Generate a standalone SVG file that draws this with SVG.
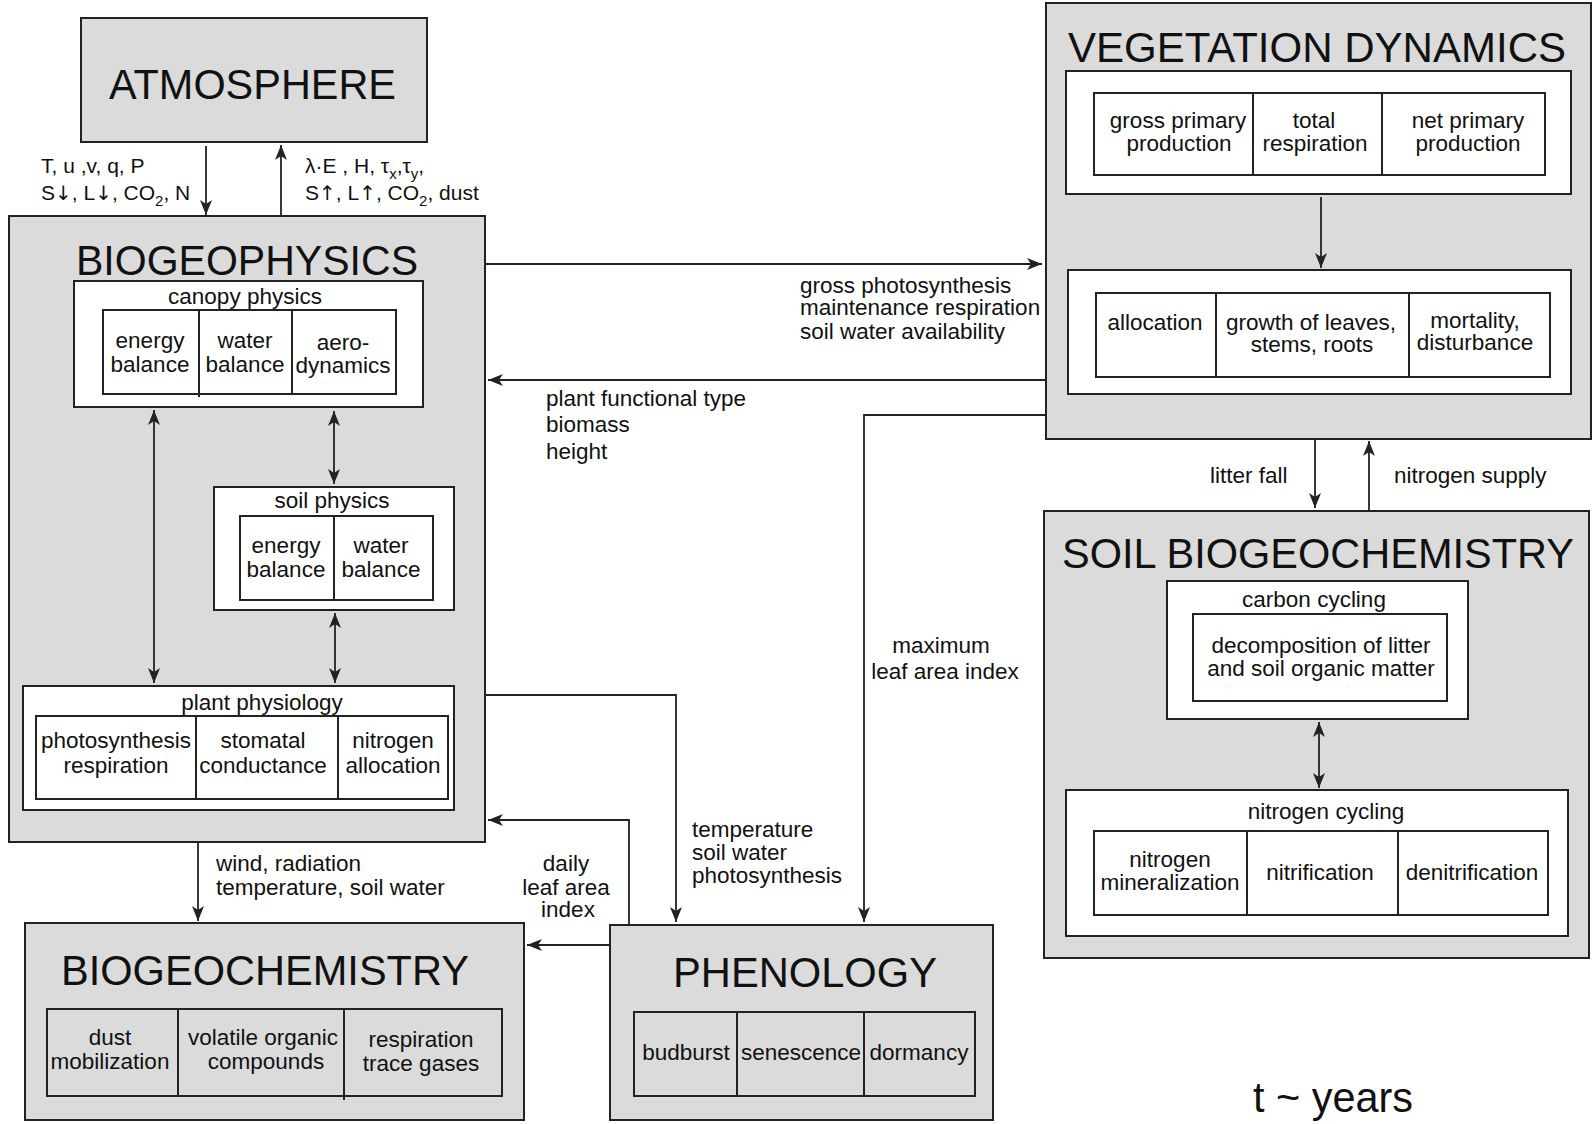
<svg xmlns="http://www.w3.org/2000/svg" width="1594" height="1124" viewBox="0 0 1594 1124">
  <style>
    .box { fill: #dbdbdb; stroke: #222; stroke-width: 2; }
    .panel { fill: #fff; stroke: #222; stroke-width: 2; }
    .cell { fill: none; stroke: #222; stroke-width: 2; }
    .div { stroke: #222; stroke-width: 2; }
    .title { font-family: "Liberation Sans", Arial, sans-serif; font-size: 42px; fill: #111; }
    .t { font-family: "Liberation Sans", Arial, sans-serif; font-size: 22.5px; fill: #111; text-anchor: middle; }
    .lbl { font-family: "Liberation Sans", Arial, sans-serif; font-size: 22.5px; fill: #111; }
    .lbl.c { text-anchor: middle; }
    .flux { font-family: "Liberation Sans", "DejaVu Sans", Arial, sans-serif; font-size: 21px; fill: #111; }
    .arr { font-family: "DejaVu Sans", sans-serif; font-size: 20px; }
    .conn { fill: none; stroke: #222; stroke-width: 1.8; }
  </style>
  <defs>
    <marker id="ah" viewBox="-16 -7 18 14" refX="0" refY="0" markerWidth="18" markerHeight="14" markerUnits="userSpaceOnUse" orient="auto-start-reverse">
      <path d="M0,0 L-15,-6 L-11,0 L-15,6 Z" fill="#222"/>
    </marker>
  </defs>

  <rect width="1594" height="1124" fill="#fff"/>

  <!-- ATMOSPHERE -->
  <g id="atmosphere">
    <rect class="box" x="81" y="18" width="346" height="124"/>
    <text class="title" x="109" y="99" font-size="45" textLength="287" lengthAdjust="spacingAndGlyphs">ATMOSPHERE</text>
  </g>

  <!-- BIOGEOPHYSICS -->
  <g id="biogeophysics">
    <rect class="box" x="9" y="216" width="476" height="626"/>
    <text class="title" x="76" y="275" textLength="342" lengthAdjust="spacingAndGlyphs">BIOGEOPHYSICS</text>

    <g id="canopy-physics">
      <rect class="panel" x="74" y="281" width="349" height="126"/>
      <text class="t" x="245" y="304">canopy physics</text>
      <rect class="cell" x="103" y="310" width="293" height="84"/>
      <line class="div" x1="199" y1="310" x2="199" y2="397"/>
      <line class="div" x1="292" y1="310" x2="292" y2="394"/>
      <text class="t" x="150" y="348">energy</text>
      <text class="t" x="150" y="372">balance</text>
      <text class="t" x="245" y="348">water</text>
      <text class="t" x="245" y="372">balance</text>
      <text class="t" x="343" y="350">aero-</text>
      <text class="t" x="343" y="373">dynamics</text>
    </g>

    <g id="soil-physics">
      <rect class="panel" x="214" y="487" width="240" height="123"/>
      <text class="t" x="332" y="508">soil physics</text>
      <rect class="cell" x="240" y="516" width="193" height="84"/>
      <line class="div" x1="334" y1="516" x2="334" y2="600"/>
      <text class="t" x="286" y="553">energy</text>
      <text class="t" x="286" y="577">balance</text>
      <text class="t" x="381" y="553">water</text>
      <text class="t" x="381" y="577">balance</text>
    </g>

    <g id="plant-physiology">
      <rect class="panel" x="23" y="686" width="431" height="124"/>
      <text class="t" x="262" y="710">plant physiology</text>
      <rect class="cell" x="36" y="716" width="412" height="83"/>
      <line class="div" x1="196" y1="716" x2="196" y2="799"/>
      <line class="div" x1="338" y1="716" x2="338" y2="799"/>
      <text class="t" x="116" y="748">photosynthesis</text>
      <text class="t" x="116" y="773">respiration</text>
      <text class="t" x="263" y="748">stomatal</text>
      <text class="t" x="263" y="773">conductance</text>
      <text class="t" x="393" y="748">nitrogen</text>
      <text class="t" x="393" y="773">allocation</text>
    </g>
  </g>

  <!-- VEGETATION DYNAMICS -->
  <g id="vegetation-dynamics">
    <rect class="box" x="1046" y="3" width="545" height="436"/>
    <text class="title" x="1068" y="62" textLength="498" lengthAdjust="spacingAndGlyphs">VEGETATION DYNAMICS</text>

    <g id="production">
      <rect class="panel" x="1066" y="71" width="505" height="123"/>
      <rect class="cell" x="1094" y="93" width="451" height="82"/>
      <line class="div" x1="1253" y1="93" x2="1253" y2="175"/>
      <line class="div" x1="1382" y1="93" x2="1382" y2="175"/>
      <text class="t" x="1178" y="128">gross primary</text>
      <text class="t" x="1179" y="151">production</text>
      <text class="t" x="1314" y="128">total</text>
      <text class="t" x="1315" y="151">respiration</text>
      <text class="t" x="1468" y="128">net primary</text>
      <text class="t" x="1468" y="151">production</text>
    </g>

    <g id="growth">
      <rect class="panel" x="1068" y="270" width="503" height="124"/>
      <rect class="cell" x="1096" y="293" width="454" height="84"/>
      <line class="div" x1="1216" y1="293" x2="1216" y2="377"/>
      <line class="div" x1="1409" y1="293" x2="1409" y2="377"/>
      <text class="t" x="1155" y="330">allocation</text>
      <text class="t" x="1311" y="330">growth of leaves,</text>
      <text class="t" x="1312" y="352">stems, roots</text>
      <text class="t" x="1475" y="328">mortality,</text>
      <text class="t" x="1475" y="350">disturbance</text>
    </g>
  </g>

  <!-- SOIL BIOGEOCHEMISTRY -->
  <g id="soil-biogeochemistry">
    <rect class="box" x="1044" y="511" width="545" height="447"/>
    <text class="title" x="1062" y="568" textLength="512" lengthAdjust="spacingAndGlyphs">SOIL BIOGEOCHEMISTRY</text>

    <g id="carbon-cycling">
      <rect class="panel" x="1167" y="581" width="301" height="138"/>
      <text class="t" x="1314" y="607">carbon cycling</text>
      <rect class="cell" x="1193" y="614" width="254" height="87"/>
      <text class="t" x="1321" y="653">decomposition of litter</text>
      <text class="t" x="1321" y="676">and soil organic matter</text>
    </g>

    <g id="nitrogen-cycling">
      <rect class="panel" x="1066" y="790" width="502" height="146"/>
      <text class="t" x="1326" y="819">nitrogen cycling</text>
      <rect class="cell" x="1094" y="831" width="454" height="84"/>
      <line class="div" x1="1247" y1="831" x2="1247" y2="915"/>
      <line class="div" x1="1398" y1="831" x2="1398" y2="915"/>
      <text class="t" x="1170" y="867">nitrogen</text>
      <text class="t" x="1170" y="890">mineralization</text>
      <text class="t" x="1320" y="880">nitrification</text>
      <text class="t" x="1472" y="880">denitrification</text>
    </g>
  </g>

  <!-- BIOGEOCHEMISTRY -->
  <g id="biogeochemistry">
    <rect class="box" x="25" y="923" width="499" height="197"/>
    <text class="title" x="61" y="985" textLength="408" lengthAdjust="spacingAndGlyphs">BIOGEOCHEMISTRY</text>
    <rect class="cell" x="47" y="1009" width="455" height="87" fill="#fff"/>
    <line class="div" x1="178" y1="1009" x2="178" y2="1096"/>
    <line class="div" x1="344" y1="1009" x2="344" y2="1100"/>
    <text class="t" x="110" y="1045">dust</text>
    <text class="t" x="110" y="1069">mobilization</text>
    <text class="t" x="263" y="1045">volatile organic</text>
    <text class="t" x="266" y="1069">compounds</text>
    <text class="t" x="421" y="1047">respiration</text>
    <text class="t" x="421" y="1071">trace gases</text>
  </g>

  <!-- PHENOLOGY -->
  <g id="phenology">
    <rect class="box" x="610" y="925" width="383" height="195"/>
    <text class="title" x="673" y="987" textLength="264" lengthAdjust="spacingAndGlyphs">PHENOLOGY</text>
    <rect class="cell" x="634" y="1012" width="341" height="84" fill="#fff"/>
    <line class="div" x1="737" y1="1012" x2="737" y2="1096"/>
    <line class="div" x1="864" y1="1012" x2="864" y2="1096"/>
    <text class="t" x="686" y="1060">budburst</text>
    <text class="t" x="801" y="1060">senescence</text>
    <text class="t" x="919" y="1060">dormancy</text>
  </g>

  <!-- Connectors -->
  <g id="connectors">
    <line class="conn" x1="206" y1="146" x2="206" y2="215" marker-end="url(#ah)"/>
    <line class="conn" x1="281" y1="216" x2="281" y2="145" marker-end="url(#ah)"/>
    <line class="conn" x1="485" y1="264" x2="1042" y2="264" marker-end="url(#ah)"/>
    <line class="conn" x1="1046" y1="380" x2="488" y2="380" marker-end="url(#ah)"/>
    <path class="conn" d="M1046,415 H864 V922" marker-end="url(#ah)"/>
    <line class="conn" x1="154" y1="410" x2="154" y2="683" marker-start="url(#ah)" marker-end="url(#ah)"/>
    <line class="conn" x1="334" y1="411" x2="334" y2="484" marker-start="url(#ah)" marker-end="url(#ah)"/>
    <line class="conn" x1="335" y1="613" x2="335" y2="683" marker-start="url(#ah)" marker-end="url(#ah)"/>
    <path class="conn" d="M485,695 H676 V922" marker-end="url(#ah)"/>
    <path class="conn" d="M629,925 V820 H488" marker-end="url(#ah)"/>
    <line class="conn" x1="610" y1="945" x2="527" y2="945" marker-end="url(#ah)"/>
    <line class="conn" x1="198" y1="842" x2="198" y2="921" marker-end="url(#ah)"/>
    <line class="conn" x1="1321" y1="197" x2="1321" y2="268" marker-end="url(#ah)"/>
    <line class="conn" x1="1315" y1="439" x2="1315" y2="508" marker-end="url(#ah)"/>
    <line class="conn" x1="1369" y1="511" x2="1369" y2="441" marker-end="url(#ah)"/>
    <line class="conn" x1="1319" y1="722" x2="1319" y2="788" marker-start="url(#ah)" marker-end="url(#ah)"/>
  </g>

  <!-- Connector labels -->
  <g id="labels">
    <text class="flux" x="41" y="173">T, u ,v, q, P</text>
    <text class="flux" x="41" y="200">S<tspan class="arr">↓</tspan>, L<tspan class="arr">↓</tspan>, CO<tspan font-size="15" dy="6">2</tspan><tspan dy="-6">, N</tspan></text>
    <text class="flux" x="305" y="173">λ·E , H,  τ<tspan font-size="15" dy="6">x</tspan><tspan dy="-6">,τ</tspan><tspan font-size="15" dy="6">y</tspan><tspan dy="-6">,</tspan></text>
    <text class="flux" x="305" y="200">S<tspan class="arr">↑</tspan>, L<tspan class="arr">↑</tspan>, CO<tspan font-size="15" dy="6">2</tspan><tspan dy="-6">, dust</tspan></text>

    <text class="lbl" x="800" y="293">gross photosynthesis</text>
    <text class="lbl" x="800" y="315">maintenance respiration</text>
    <text class="lbl" x="800" y="339">soil water availability</text>

    <text class="lbl" x="546" y="406">plant functional type</text>
    <text class="lbl" x="546" y="432">biomass</text>
    <text class="lbl" x="546" y="459">height</text>

    <text class="lbl c" x="941" y="653">maximum</text>
    <text class="lbl c" x="945" y="679">leaf area index</text>

    <text class="lbl" x="1210" y="483">litter fall</text>
    <text class="lbl" x="1394" y="483">nitrogen supply</text>

    <text class="lbl" x="216" y="871">wind, radiation</text>
    <text class="lbl" x="216" y="895">temperature, soil water</text>

    <text class="lbl c" x="566" y="871">daily</text>
    <text class="lbl c" x="566" y="895">leaf area</text>
    <text class="lbl c" x="568" y="917">index</text>

    <text class="lbl" x="692" y="837">temperature</text>
    <text class="lbl" x="692" y="860">soil water</text>
    <text class="lbl" x="692" y="883">photosynthesis</text>
  </g>

  <text id="time-scale" class="title" x="1253" y="1112" font-size="40" textLength="160" lengthAdjust="spacingAndGlyphs">t ~ years</text>
</svg>
